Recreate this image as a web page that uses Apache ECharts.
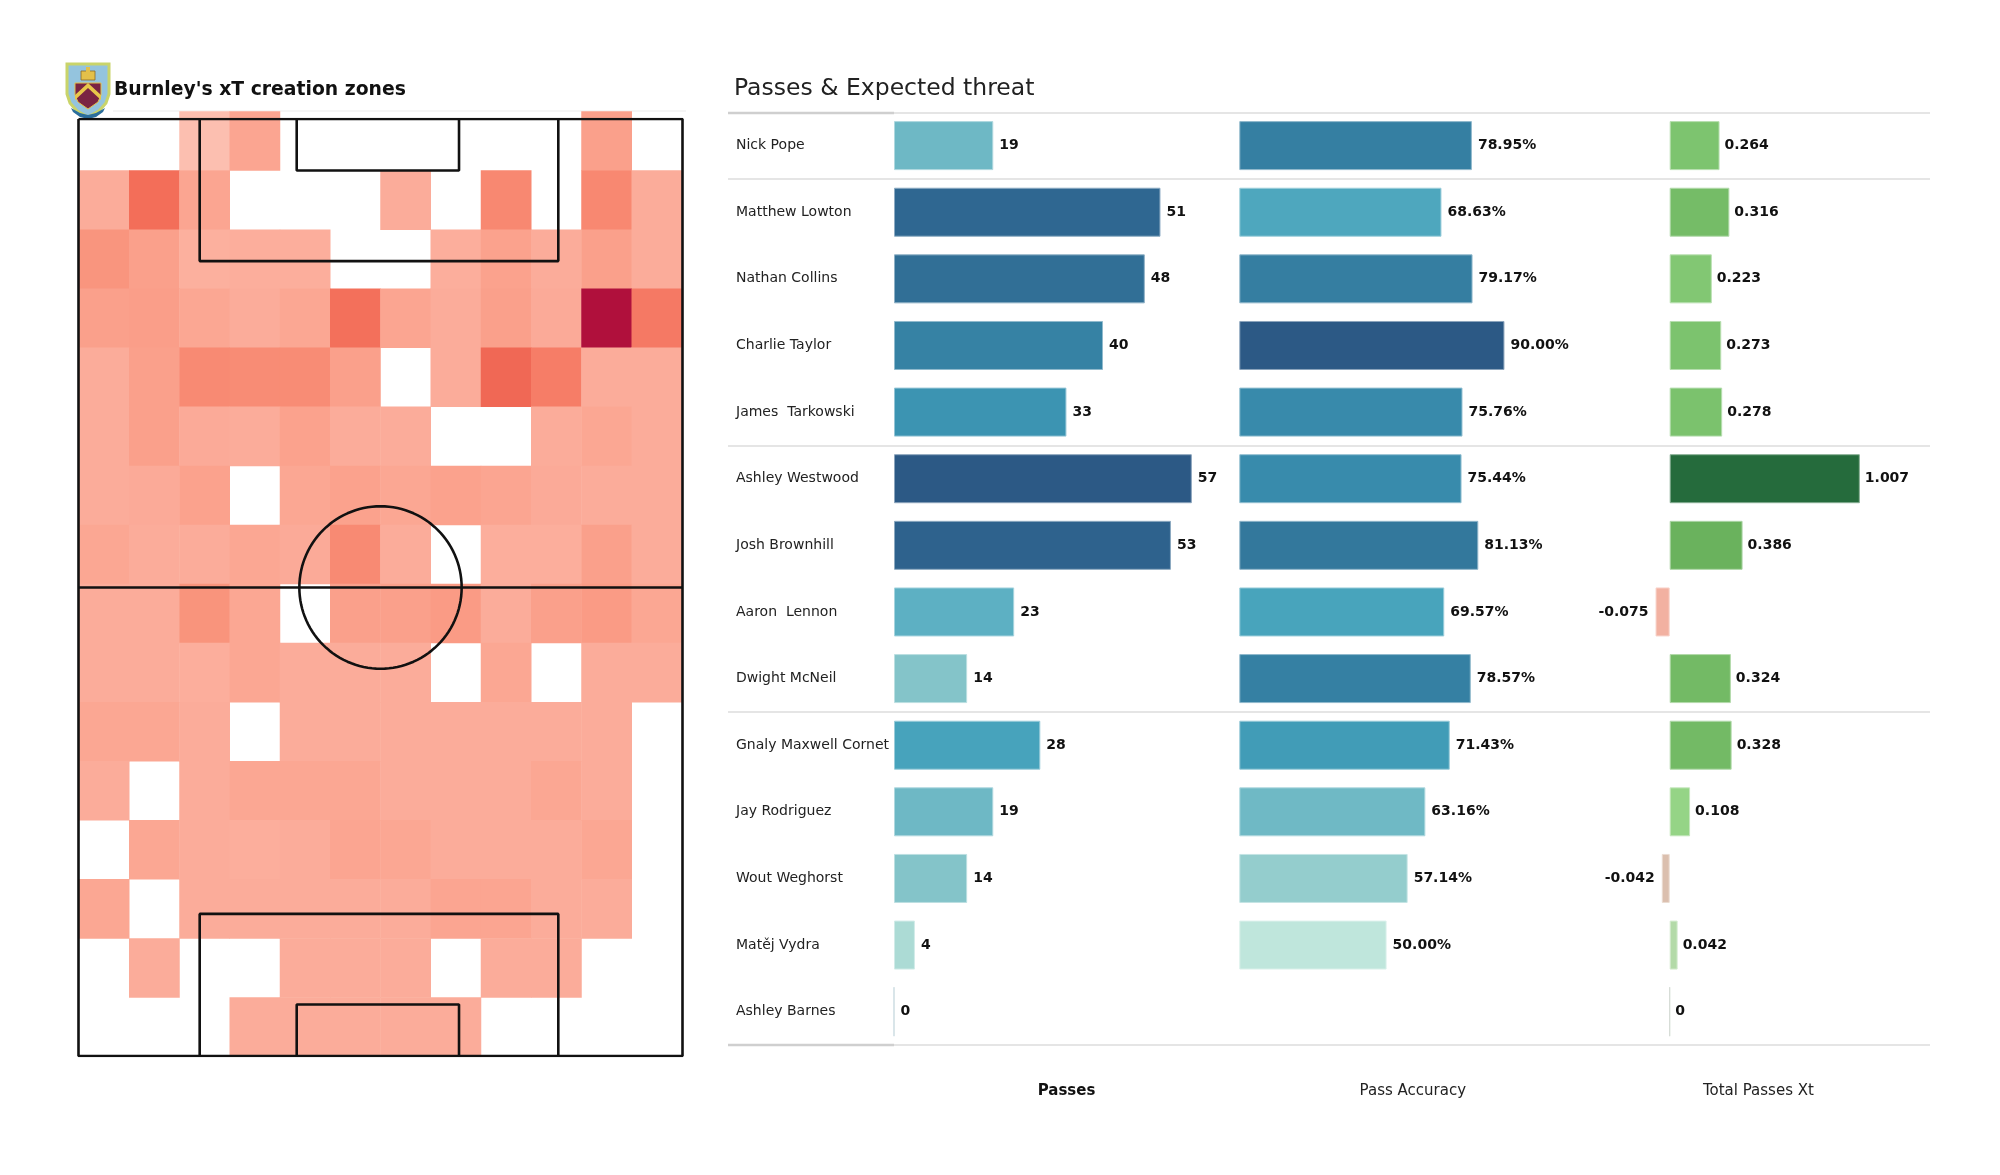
<!DOCTYPE html>
<html><head><meta charset="utf-8">
<script src="https://cdn.jsdelivr.net/npm/echarts@6/dist/echarts.min.js"></script>
<style>html,body{margin:0;padding:0;background:#fff}#c{width:2000px;height:1175px}</style>
</head><body><div id="c"></div>
<script>
// ---------------- DATA ----------------
const players = ['Nick Pope','Matthew Lowton','Nathan Collins','Charlie Taylor','James  Tarkowski','Ashley Westwood','Josh Brownhill','Aaron  Lennon','Dwight McNeil','Gnaly Maxwell Cornet','Jay Rodriguez','Wout Weghorst','Matěj Vydra','Ashley Barnes'];
const passes = [19,51,48,40,33,57,53,23,14,28,19,14,4,0];
const passAccuracy = [78.95,68.63,79.17,90.00,75.76,75.44,81.13,69.57,78.57,71.43,63.16,57.14,50.00,null];
const passesXt = [0.264,0.316,0.223,0.273,0.278,1.007,0.386,-0.075,0.324,0.328,0.108,-0.042,0.042,0];
const groupBreaks = [0,1,5,9,14];
const columnTitles = ['Passes','Pass Accuracy','Total Passes Xt'];
const zoneColumns = ['0','1','2','3','4','5','6','7','8','9','10','11'];
const zoneRowsLabels = ['0','1','2','3','4','5','6','7','8','9','10','11','12','13','14','15'];
const zoneRows = [
 [null,null,0.15,0.28,null,null,null,null,null,null,0.31,null],
 [0.24,0.58,0.28,null,null,null,0.24,null,0.44,null,0.44,0.24],
 [0.37,0.31,0.22,0.23,0.23,null,null,0.23,0.30,0.24,0.31,0.24],
 [0.31,0.32,0.27,0.24,0.27,0.57,0.28,0.24,0.31,0.25,1.00,0.52],
 [0.24,0.31,0.43,0.42,0.42,0.31,null,0.24,0.61,0.50,0.24,0.24],
 [0.24,0.31,0.25,0.24,0.30,0.24,0.24,null,null,0.24,0.27,0.24],
 [0.24,0.25,0.30,null,0.27,0.30,0.27,0.30,0.28,0.25,0.24,0.24],
 [0.27,0.24,0.24,0.27,0.25,0.43,0.24,null,0.23,0.23,0.31,0.24],
 [0.24,0.24,0.38,0.27,null,0.31,0.31,0.34,0.24,0.31,0.34,0.27],
 [0.24,0.24,0.23,0.27,0.24,0.24,0.24,null,0.27,null,0.24,0.24],
 [0.27,0.27,0.24,null,0.24,0.24,0.24,0.24,0.24,0.24,0.24,null],
 [0.24,null,0.24,0.27,0.27,0.27,0.24,0.24,0.24,0.27,0.24,null],
 [null,0.27,0.24,0.23,0.24,0.28,0.27,0.24,0.24,0.24,0.27,null],
 [0.27,null,0.24,0.24,0.24,0.24,0.24,0.28,0.28,0.24,0.24,null],
 [null,0.24,null,null,0.24,0.24,0.24,null,0.24,0.24,null,null],
 [null,null,null,0.24,0.24,0.24,0.24,0.24,null,null,null,null]
];

// ---------------- STYLE / GEOMETRY ----------------
const FONT = '"DejaVu Sans", "Liberation Sans", sans-serif';
const pitchGeom = { L:120, W:80, penX:[16.05,63.55], penD:18.2, sixX:[28.9,50.4], sixD:6.6, circR:[10.75,10.4] };
const blueStops = ['#bfe6dc','#a4d7d2','#8fcacb','#76bcc6','#5eb0c3','#45a2bb','#3990b0','#3682a4','#32759a','#2f6690','#2c5985'];
const xtStops = [[-0.075,'#f2b1a1'],[-0.042,'#dbbfae'],[0,'#c8d6b2'],[0.042,'#b3daa8'],[0.108,'#95d486'],[0.223,'#82c773'],[0.27,'#7cc36e'],[0.32,'#74bb66'],[0.386,'#6ab25d'],[1.007,'#256b3c']];

function hex2rgb(h){h=h.replace('#','');return [parseInt(h.slice(0,2),16),parseInt(h.slice(2,4),16),parseInt(h.slice(4,6),16)];}
function mix(a,b,t){const A=hex2rgb(a),B=hex2rgb(b);return 'rgb('+A.map((v,i)=>Math.round(v+(B[i]-v)*t)).join(',')+')';}
function rampEven(stops,t){t=Math.max(0,Math.min(1,t));const n=stops.length-1;const i=Math.min(n-1,Math.floor(t*n));return mix(stops[i],stops[i+1],t*n-i);}
function rampVal(stops,v){if(v<=stops[0][0])return mix(stops[0][1],stops[0][1],0);for(let i=0;i<stops.length-1;i++){if(v<=stops[i+1][0]){return mix(stops[i][1],stops[i+1][1],(v-stops[i][0])/(stops[i+1][0]-stops[i][0]));}}return mix(stops[stops.length-1][1],stops[stops.length-1][1],0);}
function lighten(c){const m=c.match(/\d+/g).map(Number);return 'rgb('+m.map(v=>Math.round(v+(255-v)*0.45)).join(',')+')';}

const pMax = Math.max(...passes);
const accVals = passAccuracy.filter(v=>v!=null);
const aMin = Math.min(...accVals), aMax = Math.max(...accVals);

// heatmap data
const zoneData = [];
zoneRows.forEach((row,r)=>row.forEach((v,c)=>{ if(v!=null) zoneData.push([c,r,v]); }));

// pitch line series
const G = pitchGeom;
const pitchShapes = [
  [[0,0],[G.W,0],[G.W,G.L],[0,G.L],[0,0]],
  [[0,G.L/2],[G.W,G.L/2]],
  [[G.penX[0],0],[G.penX[0],G.penD],[G.penX[1],G.penD],[G.penX[1],0]],
  [[G.penX[0],G.L],[G.penX[0],G.L-G.penD],[G.penX[1],G.L-G.penD],[G.penX[1],G.L]],
  [[G.sixX[0],0],[G.sixX[0],G.sixD],[G.sixX[1],G.sixD],[G.sixX[1],0]],
  [[G.sixX[0],G.L],[G.sixX[0],G.L-G.sixD],[G.sixX[1],G.L-G.sixD],[G.sixX[1],G.L]]
];
const circ = [];
for(let i=0;i<=120;i++){const a=i/120*Math.PI*2;circ.push([G.W/2+G.circR[0]*Math.cos(a),G.L/2+G.circR[1]*Math.sin(a)]);}
pitchShapes.push(circ);

// ---------------- LAYOUT ----------------
const rowTop = 112.3, rowH = 932.7;
const chart = echarts.init(document.getElementById('c'), null, {renderer:'canvas'});

const catAxis = (gi, showLabels) => ({
  type:'category', gridIndex:gi, data:players, inverse:true,
  axisLine:{show:false}, axisTick:{show:false}, splitLine:{show:false},
  axisLabel: showLabels ? {show:true, align:'left', margin:158, fontSize:14, color:'#222', fontFamily:FONT} : {show:false}
});
const hiddenVal = (gi,min,max,inverse) => ({type:'value',gridIndex:gi,min:min,max:max,inverse:!!inverse,show:false,splitLine:{show:false}});

const barLabel = (fmt) => ({show:true, position:'right', distance:6, formatter:fmt, fontSize:14, fontWeight:'bold', color:'#111', fontFamily:FONT});

const pitchSeries = pitchShapes.map(s => ({
  type:'line', xAxisIndex:1, yAxisIndex:1, data:s, symbol:'none', silent:true, z:5,
  lineStyle:{color:'#111', width:2.6}, animation:false
}));

const option = {
  animation:false,
  backgroundColor:'#ffffff',
  textStyle:{fontFamily:FONT},
  grid:[
    {left:79, top:111.5, width:603, height:945},
    {left:78.5, top:119, width:604, height:937},
    {left:894, top:rowTop, width:5.225*70, height:rowH},
    {left:1239.3, top:rowTop, width:2.946*120, height:rowH},
    {left:1669.7-0.5*188.8, top:rowTop, width:2*188.8, height:rowH},
    {left:728, top:rowTop, width:1202, height:rowH}
  ],
  xAxis:[
    {type:'category', gridIndex:0, data:zoneColumns, show:false},
    hiddenVal(1,0,G.W),
    hiddenVal(2,0,70),
    hiddenVal(3,0,120),
    hiddenVal(4,-0.5,1.5),
    hiddenVal(5,0,1)
  ],
  yAxis:[
    {type:'category', gridIndex:0, data:zoneRowsLabels, inverse:true, show:false},
    hiddenVal(1,0,G.L,true),
    catAxis(2,true),
    catAxis(3,false),
    catAxis(4,false),
    hiddenVal(5,0,14,true)
  ],
  visualMap:[{
    show:false, type:'continuous', seriesIndex:0, dimension:2, min:0, max:1,
    inRange:{color:['#fde3da','#fcb3a2','#f99078','#f26a56','#d23a44','#b0103c']}
  }],
  series:[
    {type:'heatmap', xAxisIndex:0, yAxisIndex:0, data:zoneData, silent:true, z:1, itemStyle:{borderWidth:0}},
    ...pitchSeries,
    {
      type:'bar', xAxisIndex:2, yAxisIndex:2, barWidth:49, z:3,
      data: passes.map(v => {
        const c = rampEven(blueStops, v/pMax);
        return {value:v, itemStyle:{color:c, borderColor: v===0 ? '#cddde2' : lighten(c), borderWidth:1}};
      }),
      label: barLabel(p => String(p.value))
    },
    {
      type:'bar', xAxisIndex:3, yAxisIndex:3, barWidth:49, z:3,
      data: passAccuracy.map(v => {
        if(v==null) return '-';
        const c = rampEven(blueStops, (v-aMin)/(aMax-aMin));
        return {value:v, itemStyle:{color:c, borderColor:lighten(c), borderWidth:1}};
      }),
      label: barLabel(p => p.value.toFixed(2)+'%')
    },
    {
      type:'bar', xAxisIndex:4, yAxisIndex:4, barWidth:49, z:3,
      data: passesXt.map(v => {
        const c = rampVal(xtStops, v);
        return {value:v, itemStyle:{color:c, borderColor: v===0 ? '#d5dcd5' : lighten(c), borderWidth:1},
                label:{position: v<0 ? 'left' : 'right', distance: v<0 ? 7 : 5}};
      }),
      label: barLabel(p => p.value===0 ? '0' : p.value.toFixed(3))
    },
    {
      type:'line', xAxisIndex:5, yAxisIndex:5, data:[[0,0]], symbol:'none', silent:true, z:2,
      lineStyle:{opacity:0},
      markLine:{
        silent:true, symbol:['none','none'], label:{show:false}, animation:false,
        lineStyle:{color:'#dcdcdc', width:1.6, type:'solid'},
        data: groupBreaks.map(v => ({yAxis:v})).concat([
          [{coord:[0,0], lineStyle:{color:'#cfcfcf', width:2.4, type:'solid'}},{coord:[(894-728)/1202,0]}],
          [{coord:[0,14], lineStyle:{color:'#cfcfcf', width:2.4, type:'solid'}},{coord:[(894-728)/1202,14]}]
        ])
      }
    }
  ],
  graphic:[
    {type:'line', shape:{x1:113,y1:111,x2:686,y2:111}, style:{stroke:'#ececec', lineWidth:1.2}, z:0, silent:true},
    {type:'text', x:114, y:90, style:{text:"Burnley's xT creation zones", font:'bold 18.8px '+FONT, fill:'#111', verticalAlign:'middle', align:'left'}},
    {type:'text', x:734, y:88.5, style:{text:'Passes & Expected threat', font:'23.5px '+FONT, fill:'#222', verticalAlign:'middle', align:'left'}},
    {type:'text', x:1066.5, y:1091.5, style:{text:columnTitles[0], font:'bold 15px '+FONT, fill:'#111', verticalAlign:'middle', align:'center'}},
    {type:'text', x:1412.8, y:1091.5, style:{text:columnTitles[1], font:'15px '+FONT, fill:'#222', verticalAlign:'middle', align:'center'}},
    {type:'text', x:1758.4, y:1091.5, style:{text:columnTitles[2], font:'15px '+FONT, fill:'#222', verticalAlign:'middle', align:'center'}},
    {type:'group', x:67, y:64, silent:true, children:[
      {type:'polygon', shape:{points:[[0,0],[42,0],[42,30],[39,39],[32,47],[21,53],[10,47],[3,39],[0,30]]},
        style:{fill:'#94c4de', stroke:'#c9d46a', lineWidth:3}},
      {type:'rect', shape:{x:14,y:7,width:14,height:9}, style:{fill:'#e3c04a', stroke:'#8a6a2a', lineWidth:0.8}},
      {type:'rect', shape:{x:19,y:3,width:4,height:5}, style:{fill:'#e3c04a'}},
      {type:'polygon', shape:{points:[[8,19],[34,19],[34,31],[31,38],[21,45],[11,38],[8,31]]}, style:{fill:'#7a2443', stroke:'#e3c04a', lineWidth:1}},
      {type:'polygon', shape:{points:[[8,36],[21,24],[34,36],[34,31],[21,19],[8,31]]}, style:{fill:'#e8c74a'}},
      {type:'polygon', shape:{points:[[4,44],[13,49],[21,51],[29,49],[38,44],[36,48],[29,53],[21,55],[13,53],[6,48]]}, style:{fill:'#2b6e9c'}}
    ]}
  ]
};
chart.setOption(option);
</script></body></html>
